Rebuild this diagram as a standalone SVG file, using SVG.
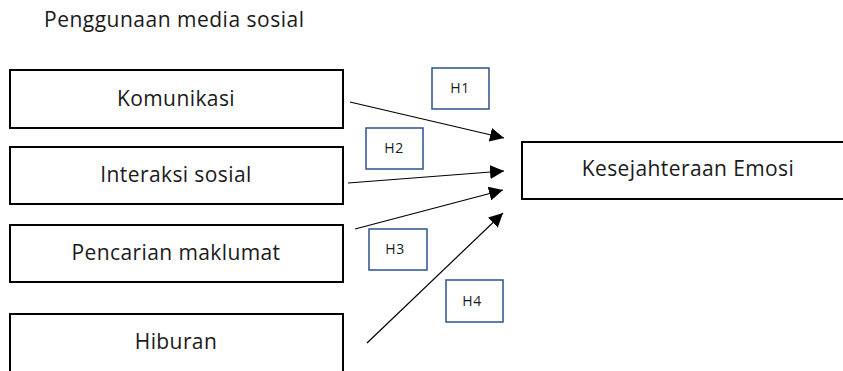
<svg xmlns="http://www.w3.org/2000/svg" width="843" height="371" viewBox="0 0 843 371">
<style>
.box{fill:#fff;stroke:#000;stroke-width:2}
.hbox{fill:#fff;stroke:#2f528f;stroke-width:1.5}
.t{font-family:"Open Sans","Noto Sans",sans-serif;font-size:21px;letter-spacing:0.4px;fill:#1a1a1a;text-anchor:middle}
.h{font-family:"Open Sans","Noto Sans",sans-serif;font-size:14px;letter-spacing:0.5px;fill:#1a1a1a;text-anchor:middle}
.c{stroke:#000;stroke-width:1.2;fill:none;marker-end:url(#ah)}
</style>
<defs>
<marker id="ah" viewBox="0 0 10 10" refX="10" refY="5" markerWidth="14" markerHeight="14" markerUnits="userSpaceOnUse" orient="auto">
<path d="M0,0 L10,5 L0,10 Z" fill="#000"/>
</marker>
</defs>
<text x="44" y="27" font-family="Open Sans, Noto Sans, sans-serif" font-size="21" letter-spacing="0.5" fill="#1a1a1a">Penggunaan media sosial</text>
<g id="n-komunikasi"><rect class="box" x="10" y="70" width="333" height="58"/><text class="t" x="176" y="106">Komunikasi</text></g>
<g id="n-interaksi"><rect class="box" x="10" y="147" width="333" height="57"/><text class="t" x="176" y="182">Interaksi sosial</text></g>
<g id="n-pencarian"><rect class="box" x="10" y="225" width="333" height="57"/><text class="t" x="176" y="260">Pencarian maklumat</text></g>
<g id="n-hiburan"><rect class="box" x="10" y="314" width="333" height="60"/><text class="t" x="176" y="349">Hiburan</text></g>
<g id="n-kesejahteraan"><rect class="box" x="522" y="142" width="330" height="57"/><text class="t" x="688" y="176">Kesejahteraan Emosi</text></g>
<g id="labels">
<g id="h1"><rect class="hbox" x="432" y="68" width="57" height="41"/><text class="h" x="460" y="93">H1</text></g>
<g id="h2"><rect class="hbox" x="366" y="128" width="57" height="41"/><text class="h" x="394" y="153">H2</text></g>
<g id="h3"><rect class="hbox" x="369" y="229" width="58" height="41"/><text class="h" x="395" y="254">H3</text></g>
<g id="h4"><rect class="hbox" x="446" y="280" width="57" height="42"/><text class="h" x="472" y="306">H4</text></g>
</g>
<g id="connectors">
<line class="c" x1="350" y1="102" x2="504" y2="138"/>
<line class="c" x1="348" y1="183" x2="504" y2="171"/>
<line class="c" x1="355" y1="229" x2="503" y2="190"/>
<line class="c" x1="367" y1="343" x2="503" y2="213"/>
</g>
</svg>
